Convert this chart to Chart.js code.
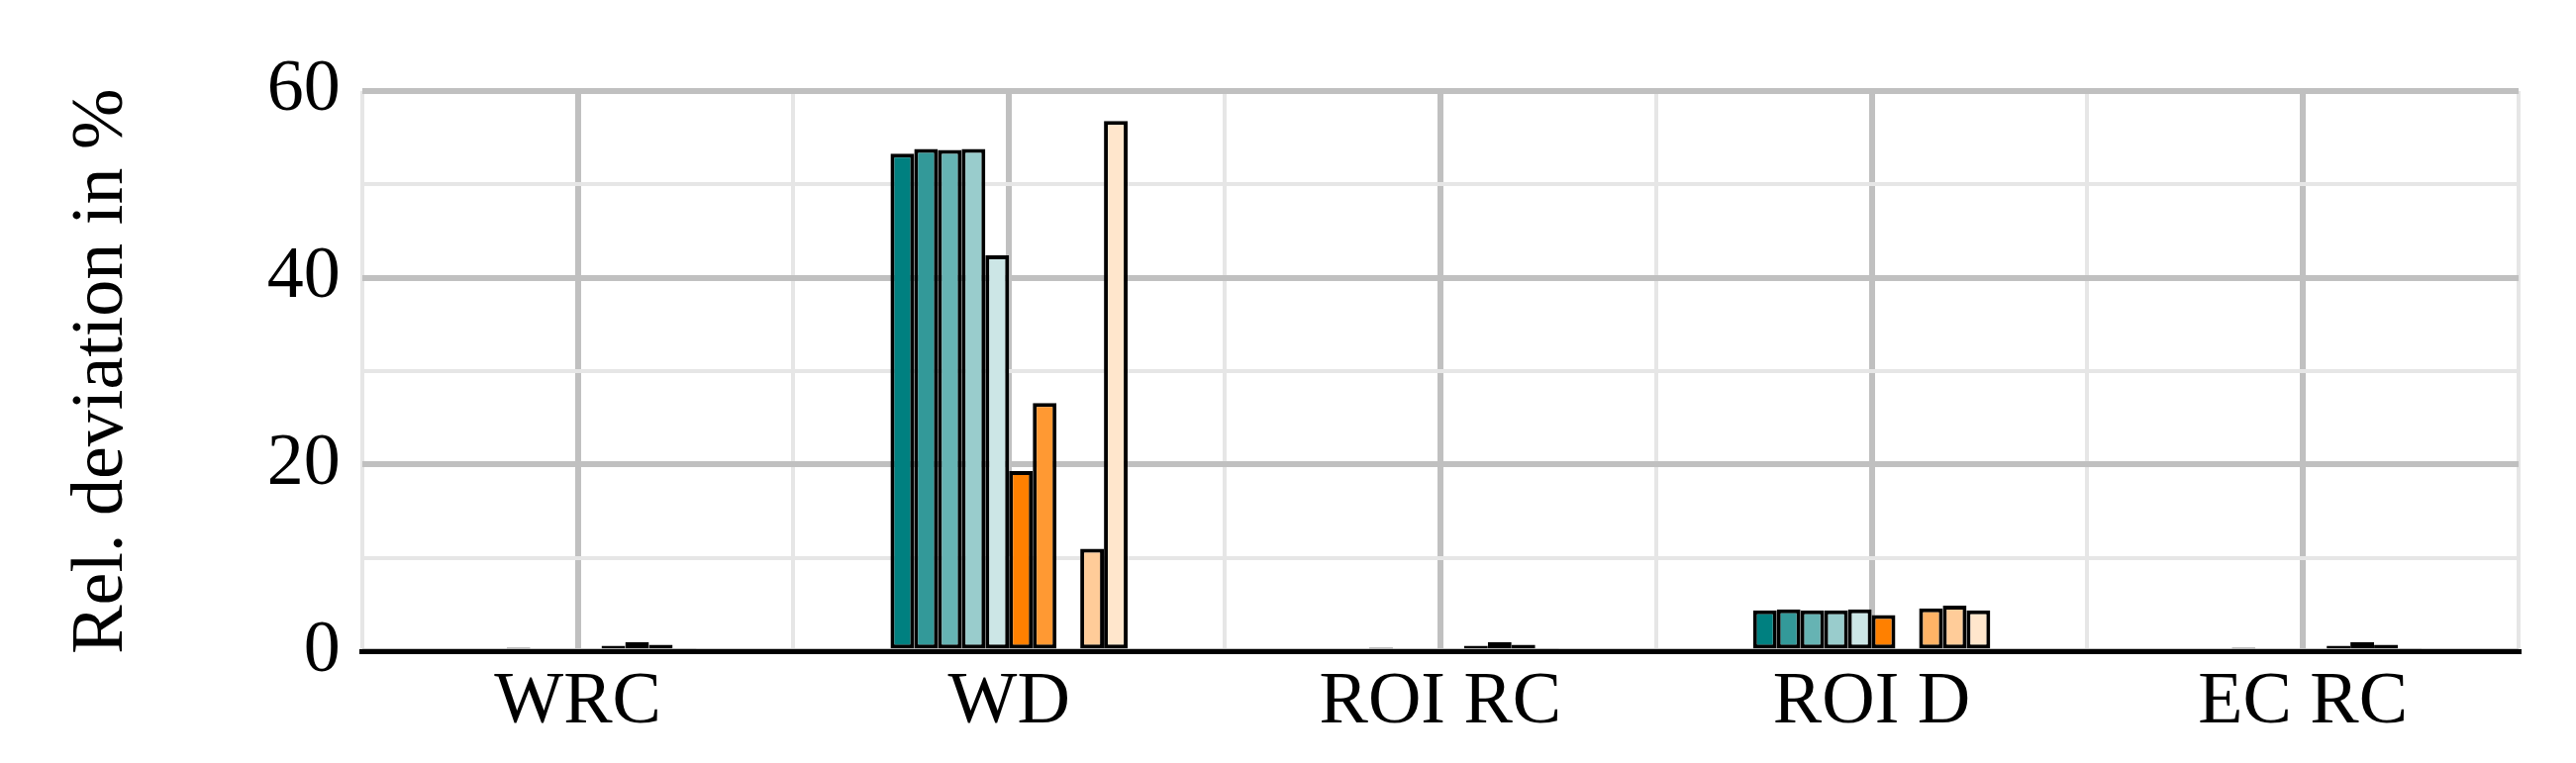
<!DOCTYPE html>
<html>
<head>
<meta charset="UTF-8" />
<style>
  html, body { margin: 0; padding: 0; background: #fff; }
  #wrap { width: 2602px; height: 771px; }
</style>
</head>
<body>
<div id="wrap"><canvas id="c"></canvas></div>
<script src="https://cdn.jsdelivr.net/npm/chart.js"></script>
<script>
  const categories = ['WRC', 'WD', 'ROI RC', 'ROI D', 'EC RC'];
  const colors = ['#008080', '#339999', '#66b3b3', '#99cccc', '#cce6e6',
                  '#ff8000', '#ff9933', '#ffb366', '#ffcc99', '#ffe6cc'];
  const s1 = [null, 53.3, null, 4.4, null];
  const s2 = [null, 53.8, null, 4.5, null];
  const s3 = [0.4, 53.7, 0.4, 4.4, 0.4];
  const s4 = [null, 53.8, null, 4.4, null];
  const s5 = [null, 42.4, null, 4.5, null];
  const s6 = [0.3, 19.3, 0.3, 3.9, 0.3];
  const s7 = [0.6, 26.6, 0.6, null, 0.6];
  const s8 = [1.0, null, 1.0, 4.6, 1.0];
  const s9 = [0.7, 11.0, 0.7, 4.9, 0.7];
  const s10 = [0.35, 56.8, 0.35, 4.4, 0.35];
  const series = [s1, s2, s3, s4, s5, s6, s7, s8, s9, s10];
  const yTicks = [0, 20, 40, 60];

  const font = 'Liberation Serif, DejaVu Serif, serif';

  new Chart(document.getElementById('c'), {
    type: 'bar',
    data: {
      labels: categories,
      datasets: series.map((d, i) => ({
        data: d,
        backgroundColor: colors[i],
        borderColor: '#000',
        borderWidth: 4,
        borderSkipped: false,
        barPercentage: 1.0,
        categoryPercentage: 0.55
      }))
    },
    options: {
      responsive: true,
      maintainAspectRatio: false,
      animation: false,
      layout: { padding: { top: 92, right: 58, bottom: 8, left: 55 } },
      plugins: { legend: { display: false }, tooltip: { enabled: false } },
      scales: {
        x: {
          offset: true,
          grid: { offset: false, color: '#c0c0c0', lineWidth: 6, drawTicks: false },
          border: { display: true, color: '#000', width: 5 },
          ticks: { color: '#000', font: { family: font, size: 74 }, padding: 8 }
        },
        x2: {
          offset: true,
          labels: categories,
          position: 'bottom',
          display: true,
          grid: { offset: true, color: '#e6e6e6', lineWidth: 4, drawTicks: false },
          border: { display: false },
          ticks: { display: false }
        },
        y: {
          min: 0,
          max: 60,
          grid: {
            color: ctx => yTicks.includes(ctx.tick.value) ? '#c0c0c0' : '#e6e6e6',
            lineWidth: ctx => yTicks.includes(ctx.tick.value) ? 6 : 4,
            drawTicks: false
          },
          border: { display: false },
          ticks: {
            stepSize: 10,
            padding: 22,
            color: '#000',
            font: { family: font, size: 74 },
            callback: v => yTicks.includes(v) ? v : ''
          },
          title: {
            display: true,
            text: 'Rel. deviation in %',
            color: '#000',
            font: { family: font, size: 74 },
            padding: { bottom: 100 }
          }
        }
      }
    }
  });
</script>
</body>
</html>
